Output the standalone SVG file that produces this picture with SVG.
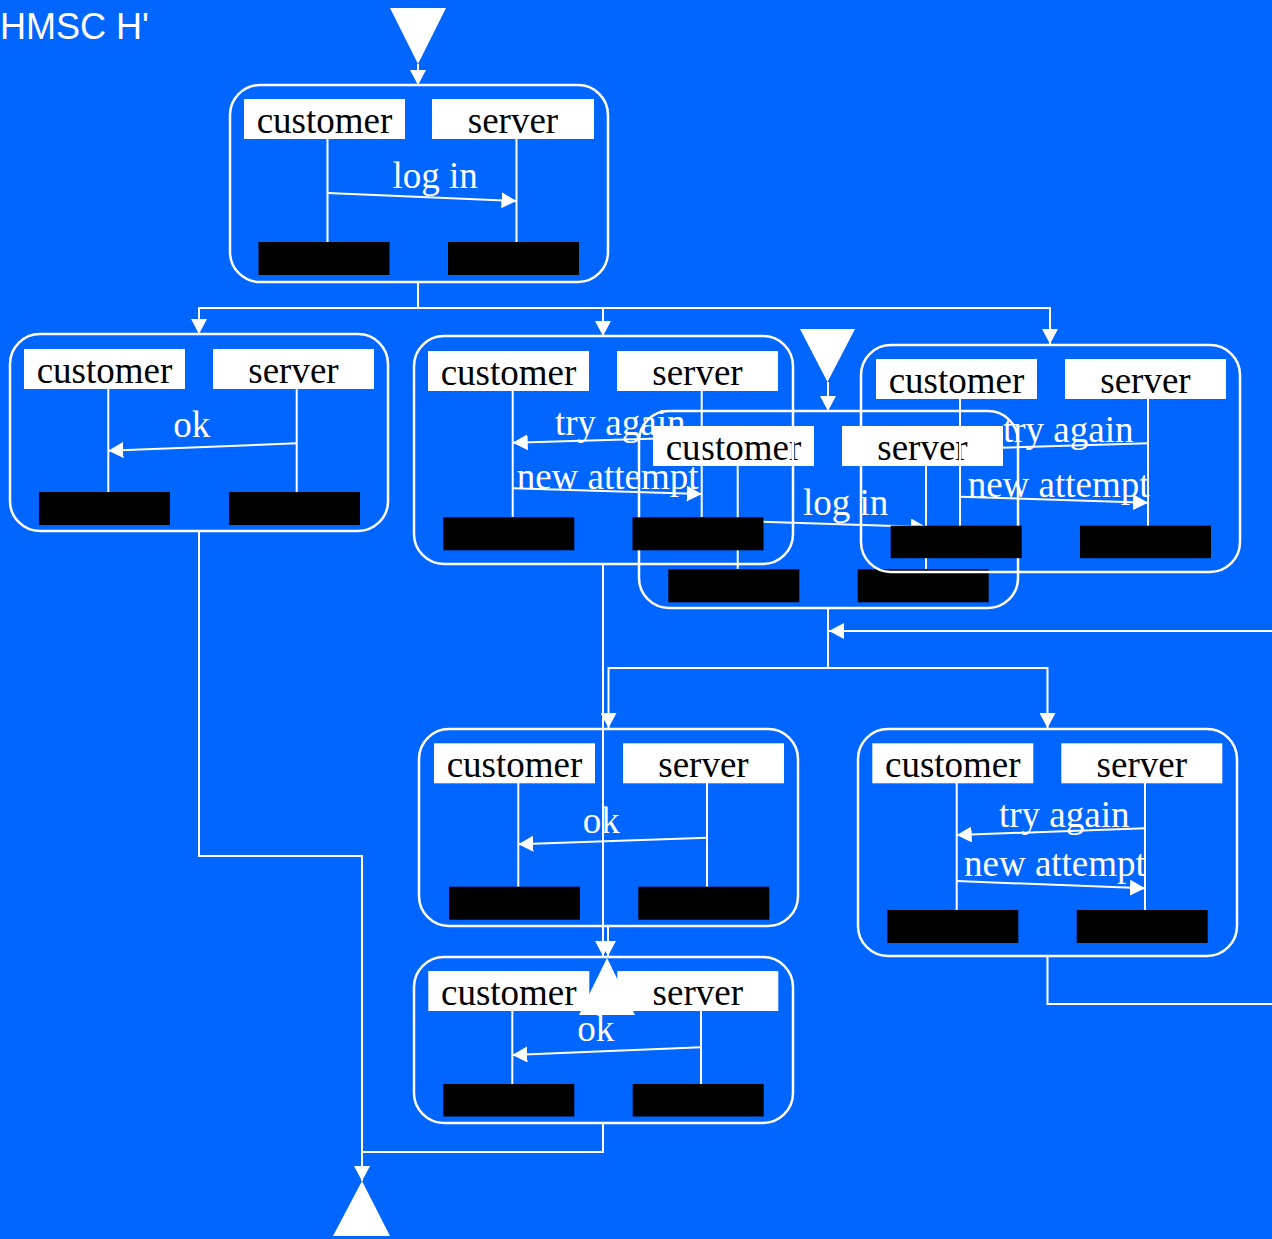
<svg xmlns="http://www.w3.org/2000/svg" width="1272" height="1239" viewBox="0 0 1272 1239">
  <style>
    .frame { fill: none; stroke: #fff; stroke-width: 2.5; }
    .head { fill: #fff; }
    .head-t { font-family: "Liberation Serif", "Times New Roman", serif; font-size: 37px; fill: #000; text-anchor: middle; }
    .life { stroke: #fff; stroke-width: 2; }
    .foot { fill: #000; }
    .msg { stroke: #fff; stroke-width: 2; fill: none; marker-end: url(#msg-head); }
    .msg-t { font-family: "Liberation Serif", "Times New Roman", serif; font-size: 37px; fill: #fff; }
    .conn { stroke: #fff; stroke-width: 2; fill: none; }
    .arrow { marker-end: url(#conn-head); }
    .term { fill: #fff; }
    .title { font-family: "Liberation Sans", Arial, sans-serif; font-size: 36px; fill: #fff; }
  </style>
  <defs>
    <marker id="msg-head" markerUnits="userSpaceOnUse" markerWidth="15" markerHeight="16" refX="15" refY="8" orient="auto">
      <path d="M0,0 L15,8 L0,16 z" fill="#fff"/>
    </marker>
    <marker id="conn-head" markerUnits="userSpaceOnUse" markerWidth="15" markerHeight="16" refX="15" refY="8" orient="auto">
      <path d="M0,0 L15,8 L0,16 z" fill="#fff"/>
    </marker>
  </defs>

  <rect width="1272" height="1239" fill="#0066ff"/>
  <text class="title" x="0" y="39">HMSC H'</text>

  <!-- message layer: arrows and labels sit beneath every MSC body -->
  <g id="messages">
    <g id="login-1-msgs">
      <line class="msg" x1="327.5" y1="193" x2="516.5" y2="201"/>
      <text class="msg-t" x="392.5" y="188">log in</text>
    </g>
    <g id="ok-1-msgs">
      <line class="msg" x1="296.7" y1="443.3" x2="108.3" y2="450.7"/>
      <text class="msg-t" x="173.3" y="437">ok</text>
    </g>
    <g id="retry-1-msgs">
      <line class="msg" x1="701.7" y1="437.3" x2="512.7" y2="442.7"/>
      <text class="msg-t" x="555" y="435">try again</text>
      <line class="msg" x1="512.7" y1="488.3" x2="701.7" y2="494"/>
      <text class="msg-t" x="516.7" y="489">new attempt</text>
    </g>
    <g id="login-2-msgs">
      <line class="msg" x1="737.7" y1="521" x2="926" y2="527"/>
      <text class="msg-t" x="803" y="515">log in</text>
    </g>
    <g id="retry-2-msgs">
      <line class="msg" x1="1148" y1="443.3" x2="960" y2="449"/>
      <text class="msg-t" x="1003" y="442">try again</text>
      <line class="msg" x1="960" y1="496.7" x2="1148" y2="502.7"/>
      <text class="msg-t" x="967.7" y="497">new attempt</text>
    </g>
    <g id="ok-2-msgs">
      <line class="msg" x1="707" y1="837.7" x2="518.3" y2="844.3"/>
      <text class="msg-t" x="582.7" y="832.7">ok</text>
    </g>
    <g id="retry-3-msgs">
      <line class="msg" x1="1145" y1="828.3" x2="956.7" y2="835"/>
      <text class="msg-t" x="999" y="827">try again</text>
      <line class="msg" x1="956.7" y1="881" x2="1145" y2="888.3"/>
      <text class="msg-t" x="964" y="876">new attempt</text>
    </g>
    <g id="ok-3-msgs">
      <line class="msg" x1="701" y1="1047.3" x2="512.3" y2="1055"/>
      <text class="msg-t" x="577.3" y="1040.7">ok</text>
    </g>
  </g>

  <!-- MSC bodies: instance heads, lifelines, end bars, frame -->
  <g id="login-1">
    <rect class="head" x="244" y="99" width="161" height="40"/>
    <text class="head-t" x="324.5" y="133">customer</text>
    <rect class="head" x="432" y="99" width="162" height="40"/>
    <text class="head-t" x="513" y="133">server</text>
    <line class="life" x1="327.5" y1="139" x2="327.5" y2="242"/>
    <line class="life" x1="516.5" y1="139" x2="516.5" y2="242"/>
    <rect class="foot" x="258.5" y="242" width="131" height="33"/>
    <rect class="foot" x="448" y="242" width="131" height="33"/>
    <rect class="frame" x="230" y="85" width="378" height="197" rx="30"/>
  </g>

  <g id="ok-1">
    <rect class="head" x="24" y="349" width="161" height="40"/>
    <text class="head-t" x="104.5" y="383">customer</text>
    <rect class="head" x="213" y="349" width="161" height="40"/>
    <text class="head-t" x="293.5" y="383">server</text>
    <line class="life" x1="108.3" y1="389" x2="108.3" y2="492"/>
    <line class="life" x1="296.7" y1="389" x2="296.7" y2="492"/>
    <rect class="foot" x="39" y="492" width="131" height="33"/>
    <rect class="foot" x="229" y="492" width="131" height="33"/>
    <rect class="frame" x="10" y="334" width="378" height="197" rx="30"/>
  </g>

  <g id="login-2">
    <rect class="head" x="653" y="426" width="161" height="40"/>
    <text class="head-t" x="733.5" y="460">customer</text>
    <rect class="head" x="842" y="426" width="161" height="40"/>
    <text class="head-t" x="922.5" y="460">server</text>
    <line class="life" x1="737.7" y1="466" x2="737.7" y2="569"/>
    <line class="life" x1="926" y1="466" x2="926" y2="569"/>
    <rect class="foot" x="668.3" y="569.3" width="131" height="33"/>
    <rect class="foot" x="857.7" y="569.3" width="131" height="33"/>
    <rect class="frame" x="639" y="411" width="379" height="197" rx="30"/>
  </g>

  <g id="retry-1">
    <rect class="head" x="428" y="351" width="161" height="40"/>
    <text class="head-t" x="508.5" y="385">customer</text>
    <rect class="head" x="617" y="351" width="161" height="40"/>
    <text class="head-t" x="697.5" y="385">server</text>
    <line class="life" x1="512.7" y1="391" x2="512.7" y2="517"/>
    <line class="life" x1="701.7" y1="391" x2="701.7" y2="517"/>
    <rect class="foot" x="443.3" y="517.3" width="131" height="33"/>
    <rect class="foot" x="632.5" y="517.3" width="131" height="33"/>
    <rect class="frame" x="414" y="336" width="379" height="228" rx="30"/>
  </g>

  <g id="retry-2">
    <rect class="head" x="876" y="359" width="161" height="40"/>
    <text class="head-t" x="956.5" y="393">customer</text>
    <rect class="head" x="1065" y="359" width="161" height="40"/>
    <text class="head-t" x="1145.5" y="393">server</text>
    <line class="life" x1="960" y1="399" x2="960" y2="526"/>
    <line class="life" x1="1148" y1="399" x2="1148" y2="526"/>
    <rect class="foot" x="890.7" y="525.7" width="131" height="32.5"/>
    <rect class="foot" x="1080" y="525.7" width="131" height="32.5"/>
    <rect class="frame" x="861" y="345" width="379" height="227" rx="30"/>
  </g>

  <g id="ok-2">
    <rect class="head" x="434" y="743.3" width="161" height="40"/>
    <text class="head-t" x="514.5" y="777">customer</text>
    <rect class="head" x="623" y="743.3" width="161" height="40"/>
    <text class="head-t" x="703.5" y="777">server</text>
    <line class="life" x1="518.3" y1="783" x2="518.3" y2="887"/>
    <line class="life" x1="707" y1="783" x2="707" y2="887"/>
    <rect class="foot" x="449" y="886.7" width="131" height="33"/>
    <rect class="foot" x="638.3" y="886.7" width="131" height="33"/>
    <rect class="frame" x="419" y="729" width="379" height="197" rx="30"/>
  </g>

  <g id="retry-3">
    <rect class="head" x="872.3" y="743.3" width="161" height="40"/>
    <text class="head-t" x="952.8" y="777">customer</text>
    <rect class="head" x="1061.3" y="743.3" width="161" height="40"/>
    <text class="head-t" x="1141.8" y="777">server</text>
    <line class="life" x1="956.7" y1="783" x2="956.7" y2="910"/>
    <line class="life" x1="1145" y1="783" x2="1145" y2="910"/>
    <rect class="foot" x="887.3" y="910" width="131" height="33"/>
    <rect class="foot" x="1076.7" y="910" width="131" height="33"/>
    <rect class="frame" x="858" y="729" width="379" height="227" rx="30"/>
  </g>

  <g id="ok-3">
    <rect class="head" x="428.3" y="971" width="161" height="40"/>
    <text class="head-t" x="508.8" y="1005">customer</text>
    <rect class="head" x="617.3" y="971" width="161" height="40"/>
    <text class="head-t" x="697.8" y="1005">server</text>
    <line class="life" x1="512.3" y1="1011" x2="512.3" y2="1084"/>
    <line class="life" x1="701" y1="1011" x2="701" y2="1084"/>
    <rect class="foot" x="443.3" y="1084" width="131" height="32.5"/>
    <rect class="foot" x="632.7" y="1084" width="131" height="32.5"/>
    <rect class="frame" x="414" y="957" width="379" height="166" rx="30"/>
  </g>

  <!-- start / end symbols -->
  <g id="start-1"><polygon class="term" points="390,8 446,8 418,64"/></g>
  <g id="start-2"><polygon class="term" points="800,329 855,329 827.5,382"/></g>
  <g id="end-1"><polygon class="term" points="607,958 579,1015 635,1015"/></g>
  <g id="end-2"><polygon class="term" points="362,1181 333,1236 390,1236"/></g>

  <!-- HMSC flow connectors -->
  <g id="connectors">
    <path class="conn arrow" d="M418,64 V85"/>
    <path class="conn arrow" d="M418,282 V308 H199 V334"/>
    <path class="conn arrow" d="M418,308 H603 V336"/>
    <path class="conn arrow" d="M418,308 H1050 V344"/>
    <path class="conn arrow" d="M199,531 V856 H362 V1181"/>
    <path class="conn arrow" d="M603,564 V956"/>
    <path class="conn arrow" d="M828,382 V411"/>
    <path class="conn arrow" d="M828,608 V668 H608.5 V728"/>
    <path class="conn arrow" d="M828,668 H1047.5 V728"/>
    <path class="conn arrow" d="M608,926 V956"/>
    <path class="conn" d="M1047.5,956 V1004 H1280"/>
    <path class="conn arrow" d="M1280,631 H829"/>
    <path class="conn" d="M603,1123 V1152 H362"/>
  </g>
</svg>
